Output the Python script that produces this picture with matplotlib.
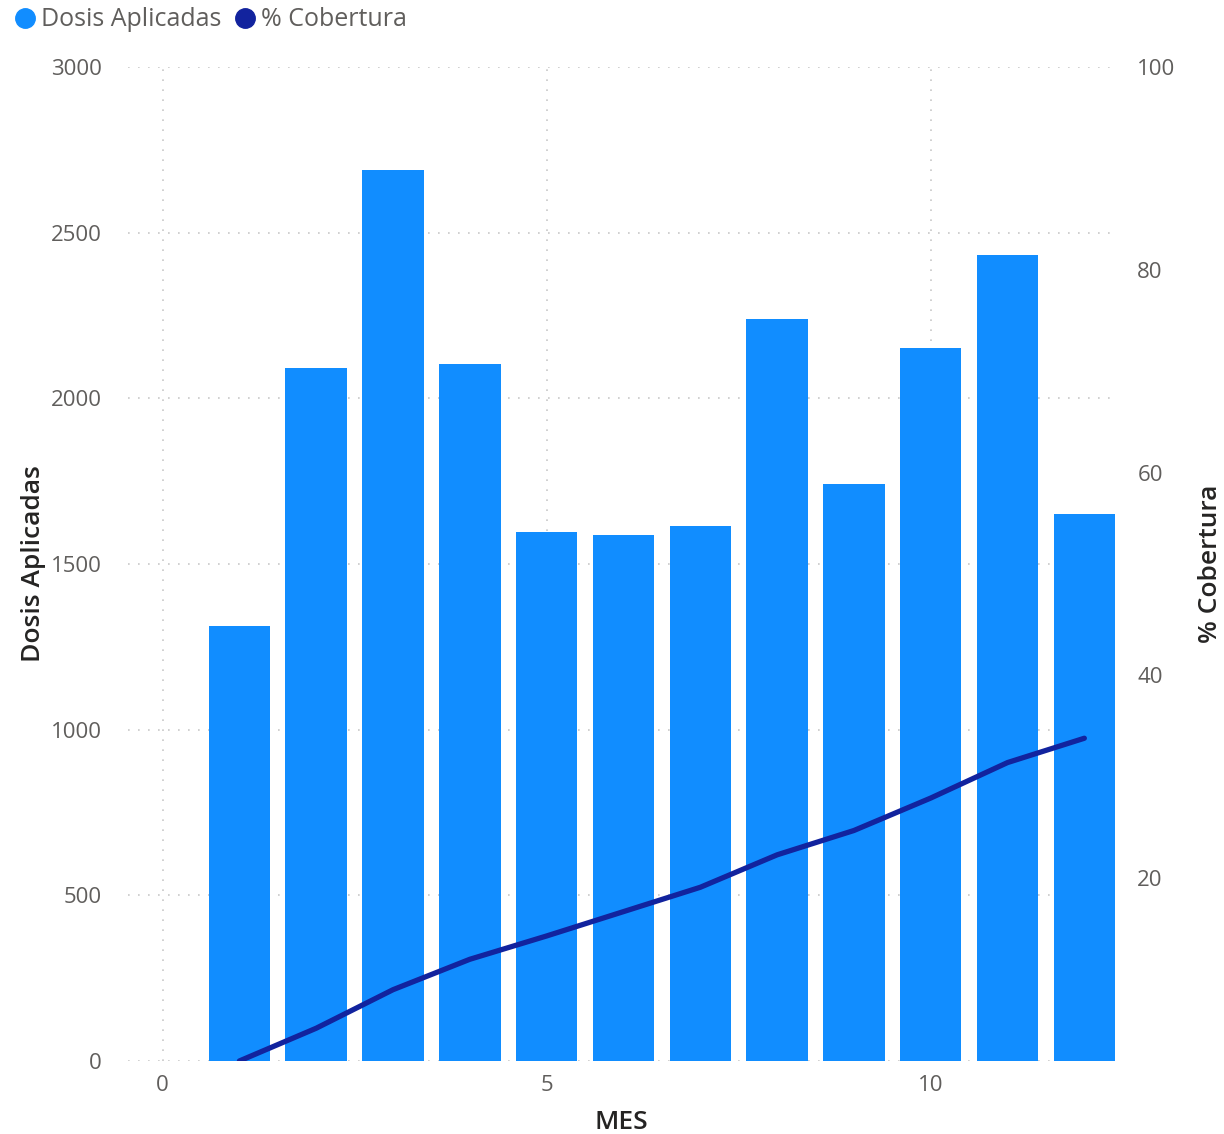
import matplotlib.pyplot as plt
from matplotlib.lines import Line2D

meses = [1, 2, 3, 4, 5, 6, 7, 8, 9, 10, 11, 12]
dosis = [1313, 2092, 2689, 2104, 1597, 1588, 1615, 2240, 1742, 2152, 2433, 1651]
cobertura = [1.97, 5.2, 9.0, 12.0, 14.3, 16.7, 19.1, 22.3, 24.7, 27.9, 31.4, 33.8]

bar_color = '#118DFF'
line_color = '#12239E'
tick_color = '#605E5C'
title_color = '#252423'

plt.rcParams['font.family'] = ['Open Sans', 'DejaVu Sans']

fig = plt.figure(figsize=(12.24, 11.34), dpi=100)
ax = fig.add_axes([0.1046, 0.0644, 0.8064, 0.8765])

ax.bar(meses, dosis, width=0.8, color=bar_color, zorder=2)
ax.set_xlim(-0.45, 12.4)
ax.set_ylim(0, 3000)
ax.set_yticks([0, 500, 1000, 1500, 2000, 2500, 3000])
ax.set_xticks([0, 5, 10])

ax.grid(True, color='#C8C8C8', linestyle=(0, (1, 5)), linewidth=1.2, zorder=0)
for s in ax.spines.values():
    s.set_visible(False)
ax.tick_params(length=0, labelsize=16, colors=tick_color, pad=19)
ax.tick_params(axis='x', pad=10)

ax.set_ylabel('Dosis Aplicadas', fontsize=19, fontweight='semibold', color=title_color, labelpad=3)
ax.set_xlabel('MES', fontsize=19, fontweight='semibold', color=title_color, labelpad=10)

ax2 = ax.twinx()
ax2.plot(meses, cobertura, color=line_color, linewidth=3.8, solid_capstyle='round', zorder=3)
ax2.set_ylim(1.97, 100)
ax2.set_yticks([20, 40, 60, 80, 100])
for s in ax2.spines.values():
    s.set_visible(False)
ax2.tick_params(length=0, labelsize=16, colors=tick_color, pad=16)
ax2.set_ylabel('% Cobertura', fontsize=19, fontweight='semibold', color=title_color, labelpad=16)

handles = [
    Line2D([], [], marker='o', linestyle='', markersize=14, color=bar_color),
    Line2D([], [], marker='o', linestyle='', markersize=14, color=line_color),
]
fig.legend(handles, ['Dosis Aplicadas', '% Cobertura'], loc='upper left',
           bbox_to_anchor=(0.0, 1.0045), ncol=2, frameon=False, fontsize=18,
           handletextpad=0.15, columnspacing=0.42, handlelength=1.0,
           borderpad=0.5, borderaxespad=0.0, labelcolor=tick_color)

fig.savefig('out.png', dpi=100)
